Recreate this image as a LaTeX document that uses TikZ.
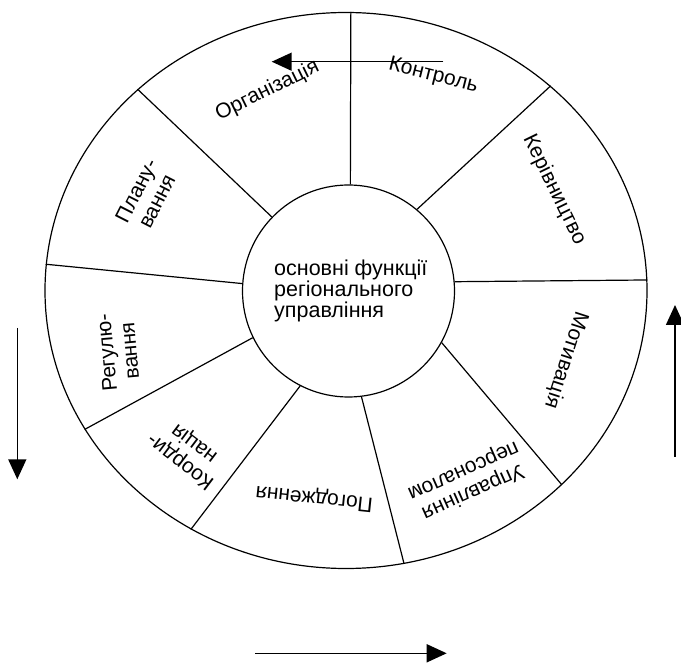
\documentclass[tikz,border=0pt]{standalone}
\usepackage{fontspec}
\setmainfont{Liberation Sans}
\usetikzlibrary{arrows.meta,shapes.geometric}
\begin{document}
\begin{tikzpicture}[x=1pt,y=-1pt,
  ln/.style={line width=1.2pt},
  arr/.style={line width=1.6pt,-{Triangle[length=20pt,width=18pt]}},
  lbl/.style={font=\fontsize{21}{23}\selectfont, inner sep=0pt, align=center},
  hubtext/.style={font=\fontsize{21.5}{20}\selectfont, inner sep=0pt, align=left}]
\fill[white] (0,0) rectangle (681,663);
\useasboundingbox (0,0) rectangle (681,663);
% wheel
\node[ellipse, draw, ln, minimum width=602pt, minimum height=556pt, inner sep=0pt] (rim) at (346,290.5) {};
\node[circle, draw, ln, minimum size=212pt, inner sep=0pt] (hub) at (348.5,291) {};
\node[hubtext, anchor=west] (title) at (274,291) {основні функції\\регіонального\\управління};
% spokes
\draw[ln] (hub.89.7) -- (rim.89.3);
\draw[ln] (hub.136.3) -- (rim.136.9);
\draw[ln] (hub.176.2) -- (rim.175.4);
\draw[ln] (hub.206.9) -- (rim.208.4);
\draw[ln] (hub.243.9) -- (rim.237.8);
\draw[ln] (hub.277.1) -- (rim.282.9);
\draw[ln] (hub.331.8) -- (rim.318.9);
\draw[ln] (hub.5.0) -- (rim.2.8);
\draw[ln] (hub.50.0) -- (rim.45.4);
% labels
\node[lbl, rotate=26] (org) at (267.5,90.8) {Організація};
\node[lbl, rotate=-14] (kon) at (433.3,75.8) {Контроль};
\node[lbl, rotate=-64] (ker) at (554.2,190) {Керівництво};
\node[lbl, rotate=-108] (mot) at (565.8,360) {Мотивація};
\node[lbl, rotate=204] (upr) at (468,481) {Управління\\персоналом};
\node[lbl, rotate=174] (pog) at (314.2,497.5) {Погодження};
\node[lbl, rotate=143] (koo) at (187.8,452) {Коорди-\\нація};
\node[lbl, rotate=95] (reg) at (118,352) {Регулю-\\вання};
\node[lbl, rotate=63] (pla) at (146.5,196) {Плану-\\вання};
% arrows
\coordinate (t1) at (443.3,61.7);
\coordinate (t2) at (271.7,61.7);
\coordinate (l1) at (17.3,328);
\coordinate (l2) at (17.3,479.3);
\coordinate (r1) at (675,456.7);
\coordinate (r2) at (675,305);
\coordinate (b1) at (255,653.3);
\coordinate (b2) at (446.7,653.3);
\draw[arr] (t1) -- (t2);
\draw[arr] (l1) -- (l2);
\draw[arr] (r1) -- (r2);
\draw[arr] (b1) -- (b2);
\end{tikzpicture}
\end{document}
